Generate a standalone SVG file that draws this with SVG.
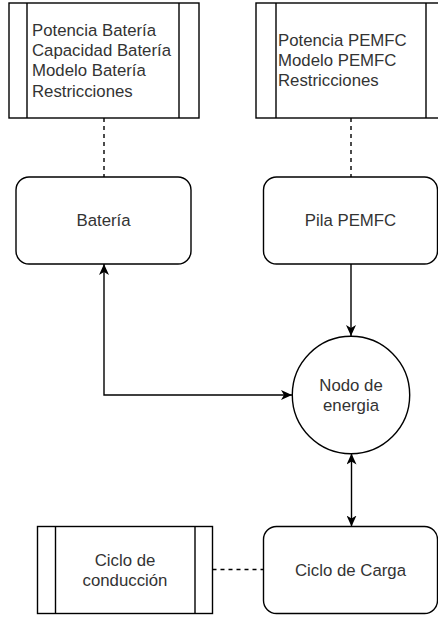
<svg xmlns="http://www.w3.org/2000/svg" width="438" height="618" viewBox="0 0 438 618">
<style>
.box{fill:#ffffff;stroke:#000000;stroke-width:1.4}
.ln{fill:none;stroke:#000000;stroke-width:1.4}
.dash{fill:none;stroke:#000000;stroke-width:1.4;stroke-dasharray:4,4}
.t{font-family:"Liberation Sans",Arial,sans-serif;font-size:16.8px;fill:#333333}
.c{text-anchor:middle}
</style>
<defs>
<marker id="arr" viewBox="0 0 11 10" refX="11" refY="5" markerWidth="11" markerHeight="10" markerUnits="userSpaceOnUse" orient="auto-start-reverse">
<path d="M0,0 L11,5 L0,10 L3,5 Z" fill="#000000"/>
</marker>
</defs>
<rect width="438" height="618" fill="#ffffff"/>
<g id="connectors">
<line class="dash" x1="104" y1="118" x2="104" y2="177"/>
<line class="dash" x1="351" y1="118" x2="351" y2="177"/>
<line class="ln" x1="351" y1="264" x2="351" y2="336" marker-end="url(#arr)"/>
<polyline class="ln" points="104,264 104,395 292,395" marker-start="url(#arr)" marker-end="url(#arr)"/>
<line class="ln" x1="351.5" y1="453.5" x2="351.5" y2="526.5" marker-start="url(#arr)" marker-end="url(#arr)"/>
<line class="dash" x1="212.5" y1="569.5" x2="263.5" y2="569.5"/>
</g>
<g id="param-bateria">
<rect class="box" x="9" y="3" width="190" height="115"/>
<line class="ln" x1="27" y1="3" x2="27" y2="118"/>
<line class="ln" x1="179" y1="3" x2="179" y2="118"/>
<text class="t" x="32" y="36">Potencia Batería</text>
<text class="t" x="32" y="56.2">Capacidad Batería</text>
<text class="t" x="32" y="76.4">Modelo Batería</text>
<text class="t" x="32" y="96.6">Restricciones</text>
</g>
<g id="param-pemfc">
<rect class="box" x="256" y="3" width="190" height="115"/>
<line class="ln" x1="276" y1="3" x2="276" y2="118"/>
<line class="ln" x1="426" y1="3" x2="426" y2="118"/>
<text class="t" x="278" y="46">Potencia PEMFC</text>
<text class="t" x="278" y="66.2">Modelo PEMFC</text>
<text class="t" x="278" y="86.4">Restricciones</text>
</g>
<g id="bateria">
<rect class="box" x="16" y="177" width="175" height="87" rx="13" ry="13"/>
<text class="t c" x="103.5" y="226">Batería</text>
</g>
<g id="pila">
<rect class="box" x="263.5" y="177" width="174" height="87" rx="13" ry="13"/>
<text class="t c" x="350.5" y="226">Pila PEMFC</text>
</g>
<g id="nodo">
<circle class="box" cx="351" cy="395" r="58.7"/>
<text class="t c" x="351" y="391">Nodo de</text>
<text class="t c" x="351" y="411.2">energia</text>
</g>
<g id="ciclo-conduccion">
<rect class="box" x="37.5" y="526.5" width="175" height="87"/>
<line class="ln" x1="55.5" y1="526.5" x2="55.5" y2="613.5"/>
<line class="ln" x1="195" y1="526.5" x2="195" y2="613.5"/>
<text class="t c" x="125" y="565.5">Ciclo de</text>
<text class="t c" x="125" y="585.7">conducción</text>
</g>
<g id="ciclo-carga">
<rect class="box" x="263.5" y="526.5" width="174" height="87" rx="13" ry="13"/>
<text class="t c" x="350.5" y="575.5">Ciclo de Carga</text>
</g>
</svg>
